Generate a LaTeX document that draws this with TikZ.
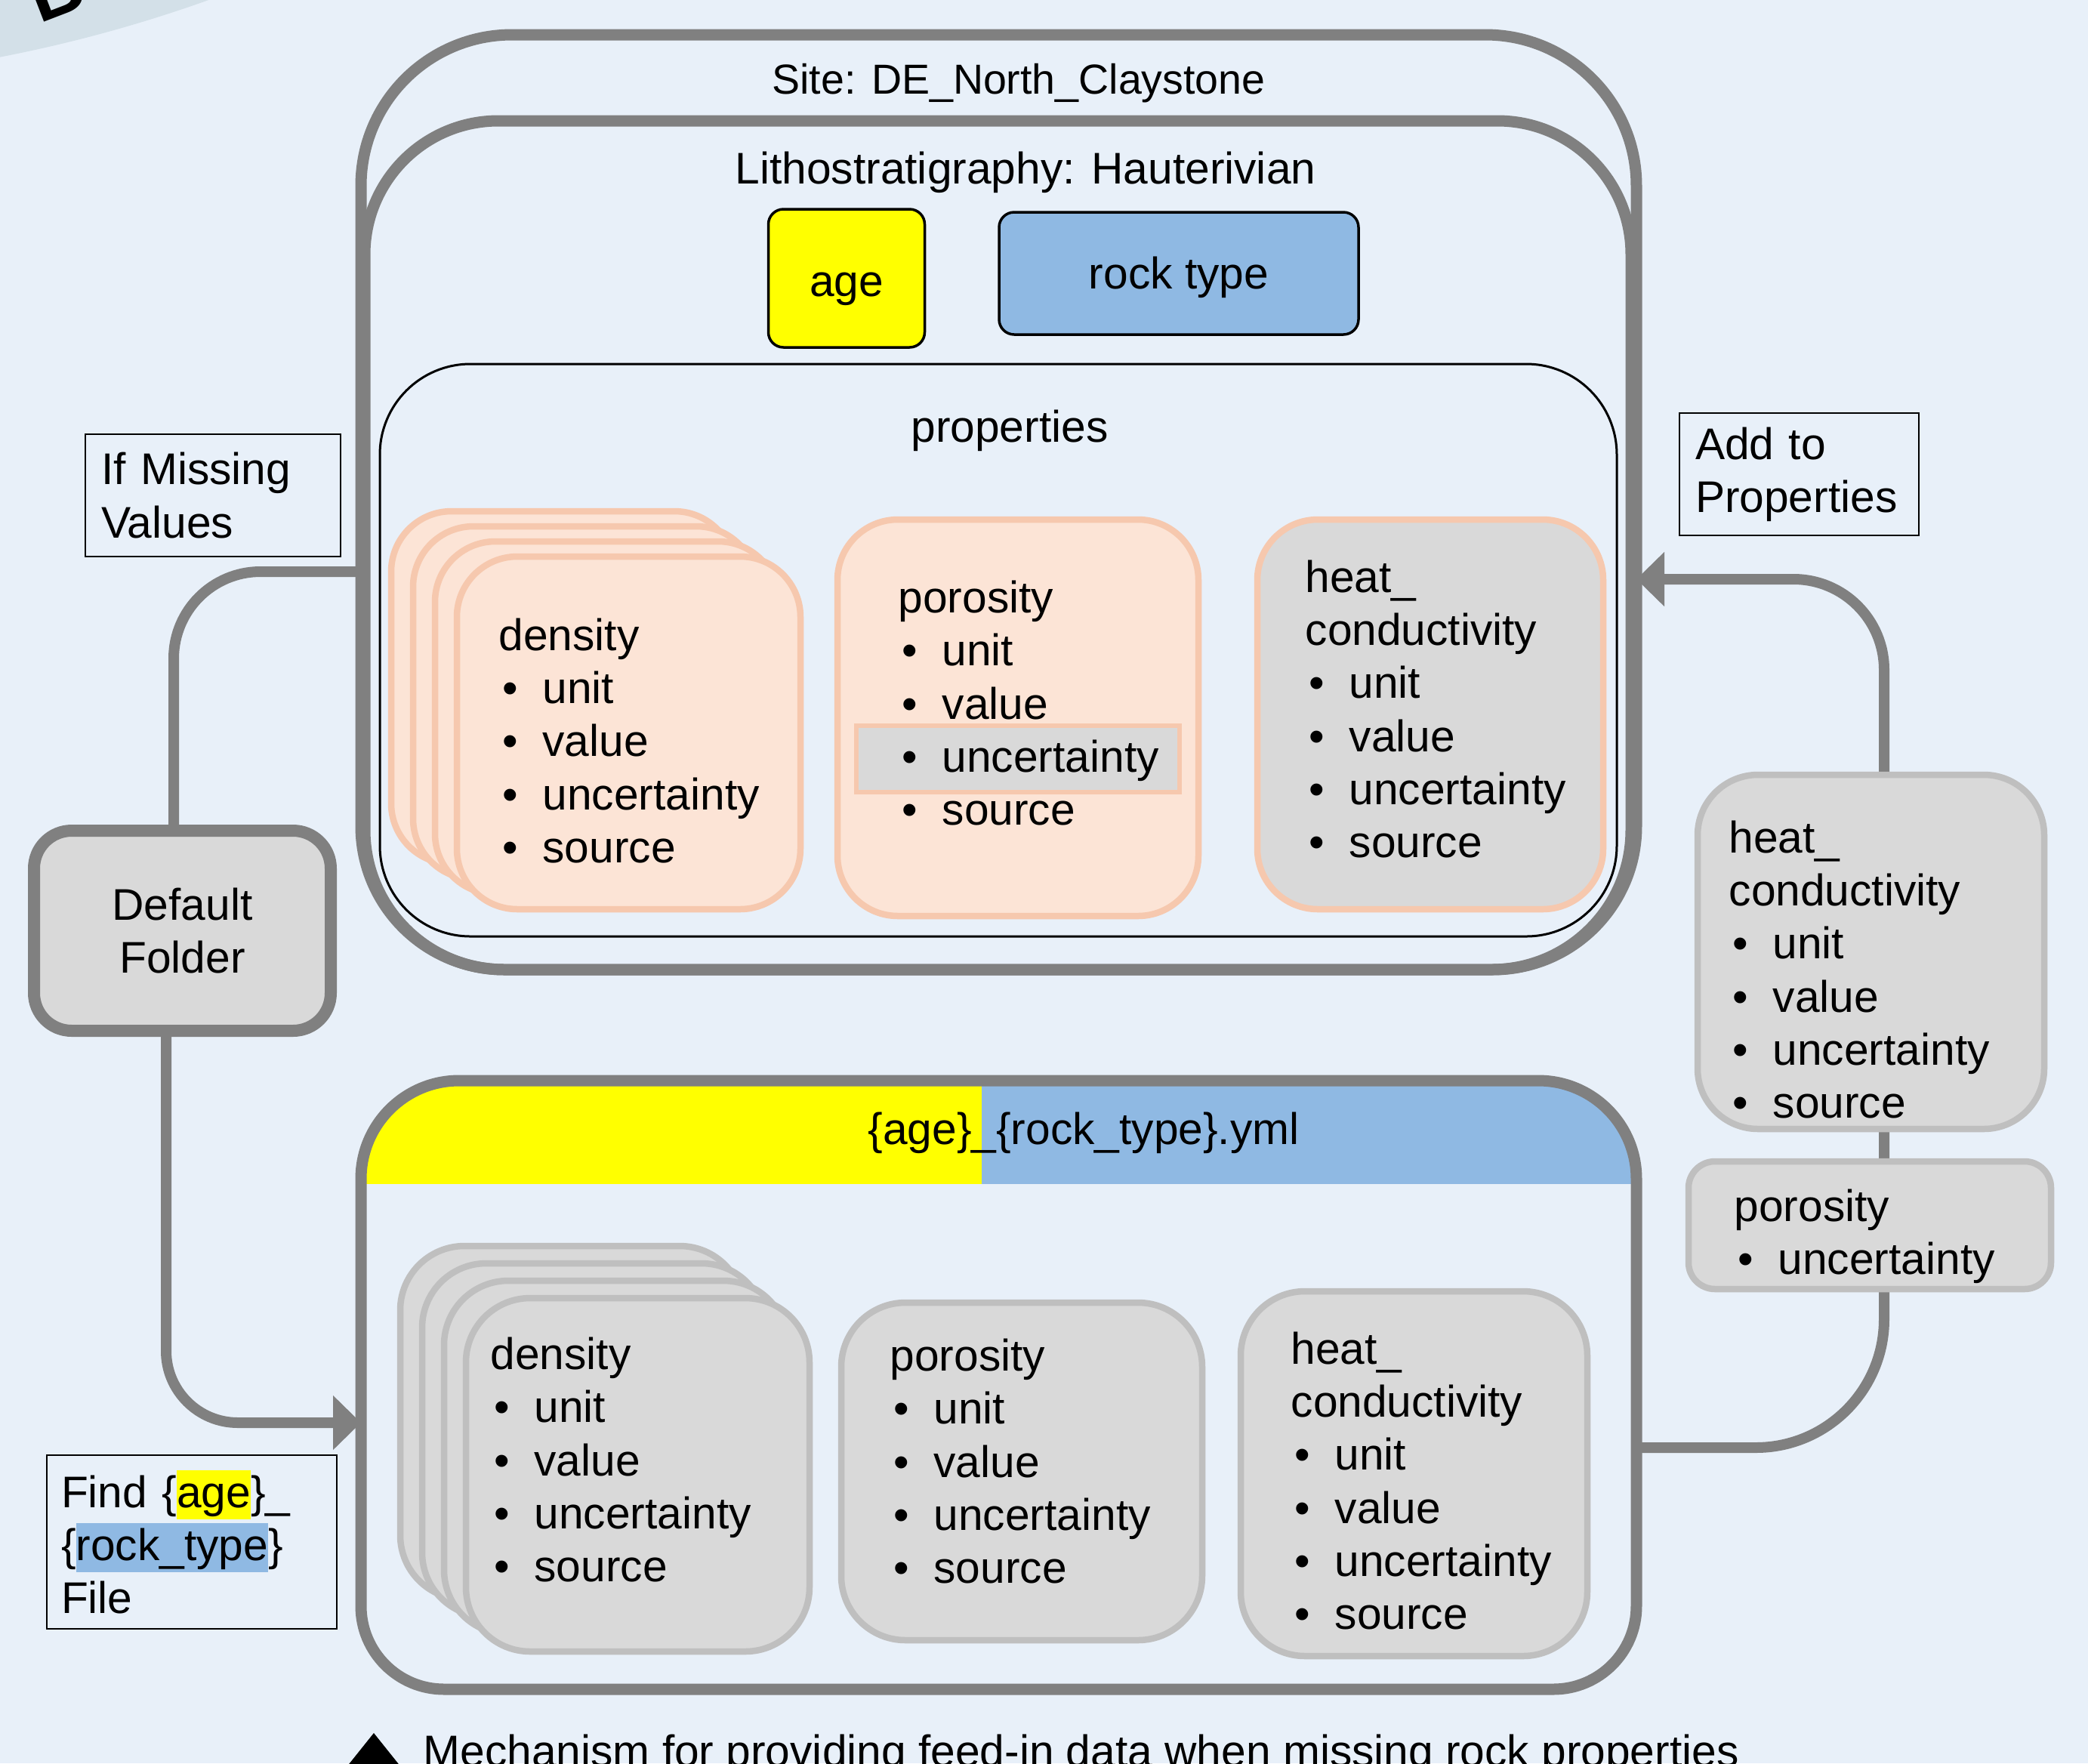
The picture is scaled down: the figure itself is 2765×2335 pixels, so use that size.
\documentclass[tikz,border=0pt]{standalone}
\usepackage{fontspec}
\setmainfont{Liberation Sans}
\usetikzlibrary{arrows.meta,positioning,calc}

\definecolor{bgcol}{HTML}{E8F0F9}
\definecolor{badge}{HTML}{D3E0E8}
\definecolor{gline}{HTML}{808080}
\definecolor{peachfill}{HTML}{FCE4D6}
\definecolor{peachline}{HTML}{F6C8AE}
\definecolor{greyfill}{HTML}{D9D9D9}
\definecolor{greyline}{HTML}{BFBFBF}
\definecolor{agefill}{HTML}{FFFF00}
\definecolor{rockfill}{HTML}{8FB9E3}

\newcommand{\bodyfont}{\fontsize{16.7}{20}\selectfont}
\newcommand{\itm}[1]{\makebox[5.8mm][l]{\hspace{0.5mm}\textbullet}#1}
\newcommand{\hlbox}[2]{{\setlength{\fboxsep}{0pt}\colorbox{#1}{\rule[-0.26em]{0pt}{1.11em}#2}}}
% outline of a frame node: #1 node, #2 top radius, #3 bottom radius
\newcommand{\framepath}[3]{(#1.west) -- ($(#1.north west)+(0,#2)$) arc[start angle=180,end angle=270,radius=#2]
  -- ($(#1.north east)+(-#2,0)$) arc[start angle=270,end angle=360,radius=#2]
  -- ($(#1.south east)+(0,-#3)$) arc[start angle=0,end angle=90,radius=#3]
  -- ($(#1.south west)+(#3,0)$) arc[start angle=90,end angle=180,radius=#3] -- cycle}

\pgfdeclarelayer{bottom}
\pgfdeclarelayer{behind}
\pgfsetlayers{bottom,behind,main}

\begin{document}
\begin{tikzpicture}[x=0.1mm, y=-0.1mm, font=\bodyfont,
     frame/.style = {draw=none, inner sep=0, outer sep=0},
    gframe/.style = {draw=gline, line width=1.5mm},
 peachcard/.style = {draw=peachline, fill=peachfill, line width=0.85mm, rounded corners=8mm, inner sep=0, outer sep=0},
  greycard/.style = {draw=greyline, fill=greyfill, line width=0.85mm, rounded corners=8.5mm, inner sep=0, outer sep=0},
  heatcard/.style = {peachcard, fill=greyfill},
  cardtext/.style = {anchor=west, align=left, inner sep=0},
       tag/.style = {draw=black, line width=0.25mm, align=left, inner ysep=0, outer sep=0},
    keybox/.style = {draw=black, line width=0.35mm, rounded corners=2mm, inner sep=0, text depth=0pt},
     title/.style = {anchor=base, inner sep=0},
      conn/.style = {draw=gline, line width=1.4mm},
       arr/.style = {-{Triangle[length=3.7mm,width=7mm]}},
     strip/.style = {draw=peachline, fill=greyfill, line width=0.55mm, sharp corners},
]
\useasboundingbox (0,0) rectangle (2765,2335);
\begin{pgfonlayer}{bottom}
\fill[bgcol] (0,0) rectangle (2765,2335);
\fill[badge] (-361,-1782) circle[radius=1892];
\end{pgfonlayer}
\node[rotate=21, anchor=base west, inner sep=0, font=\fontsize{28}{28}\selectfont\bfseries] (tagB) at (52,32) {B};

%% frames
\node[frame, minimum width=168.9mm, minimum height=123.8mm] (site)  at (1322.5,665) {};
\node[frame, minimum width=167.7mm, minimum height=112.4mm] (litho) at (1321.5,722) {};
\node[frame, minimum width=168.9mm, minimum height=80.6mm]  (file)  at (1322.5,1834) {};
\draw[gframe] \framepath{site}{200}{190};
\draw[gframe] \framepath{litho}{177}{185};
\node[title, font=\fontsize{15.8}{19}\selectfont] (siteTtl) at (1349,124) {Site: DE\_North\_Claystone};
\node[title] (lithoTtl) at (1358,243) {Lithostratigraphy: Hauterivian};

\node[keybox, fill=agefill, text height=4.7mm, minimum width=20.7mm, minimum height=18.3mm] (age) at (1121,368.5) {age};
\node[keybox, fill=rockfill, text height=4mm, minimum width=47.6mm, minimum height=16.2mm] (rock) at (1561,362) {rock type};

\node[draw=black, line width=0.3mm, rounded corners=12mm, minimum width=163.8mm, minimum height=75.8mm, outer sep=0] (props) at (1322,861) {};
\node[title] (propsTtl) at (1337,585) {properties};

%% stored properties
\foreach \k in {3,2,1}
  \node[peachcard, minimum width=45.5mm, minimum height=46.7mm] (upDen\k) at ({832.5-29*\k},{970.5-20*\k}) {};
\node[peachcard, minimum width=45.5mm, minimum height=46.7mm] (upDen) at (832.5,970.5) {};
\node[cardtext] (upDenTxt) at (660,981) {density\\\itm{unit}\\\itm{value}\\\itm{uncertainty}\\\itm{source}};
\node[peachcard, minimum width=47.8mm, minimum height=52.5mm,
      path picture={\draw[strip] ($(path picture bounding box.north west)+(25,273)$) rectangle ++(428,88);}] (upPor) at (1348,950.5) {};
\node[cardtext] (upPorTxt) at (1189,931) {porosity\\\itm{unit}\\\itm{value}\\\itm{uncertainty}\\\itm{source}};
\node[heatcard, minimum width=45.8mm, minimum height=51.6mm] (upHeat) at (1894,946) {};
\node[cardtext] (upHeatTxt) at (1728,939) {heat\_\\conductivity\\\itm{unit}\\\itm{value}\\\itm{uncertainty}\\\itm{source}};

%% default file
\begin{scope}
\clip \framepath{file}{130}{110};
\fill[agefill] (file.north west) rectangle (1300,1568);
\fill[rockfill] (1300,1431) rectangle (2167,1568);
\end{scope}
\draw[gframe] \framepath{file}{130}{110};
\node[title] (fileHdr) at (1435,1515) {\{age\}\_\{rock\_type\}.yml};

\foreach \k in {3,2,1}
  \node[greycard, minimum width=45.5mm, minimum height=46.8mm] (loDen\k) at ({844.5-29*\k},{1953-23*\k}) {};
\node[greycard, minimum width=45.5mm, minimum height=46.8mm] (loDen) at (844.5,1953) {};
\node[cardtext] (loDenTxt) at (649,1933) {density\\\itm{unit}\\\itm{value}\\\itm{uncertainty}\\\itm{source}};
\node[greycard, minimum width=47.8mm, minimum height=44.7mm] (loPor) at (1353,1948.5) {};
\node[cardtext] (loPorTxt) at (1178,1935) {porosity\\\itm{unit}\\\itm{value}\\\itm{uncertainty}\\\itm{source}};
\node[greycard, minimum width=45.9mm, minimum height=48.3mm] (loHeat) at (1872.5,1951.5) {};
\node[cardtext] (loHeatTxt) at (1709,1961) {heat\_\\conductivity\\\itm{unit}\\\itm{value}\\\itm{uncertainty}\\\itm{source}};

%% left side
\node[draw=gline, line width=1.6mm, fill=greyfill, rounded corners=5mm, align=center,
      minimum width=39.3mm, minimum height=26.5mm, outer sep=0] (defFold) at (241.5,1232.5) {Default\\Folder};
\node[tag, text width=29.6mm, inner xsep=2.1mm, minimum height=16.2mm] (missLbl) at (282,656) {If Missing\\Values};
\node[tag, text width=34.6mm, inner xsep=1.9mm, minimum height=23mm] (findLbl) at (254,2042)
  {Find \{\hlbox{agefill}{age}\}\_\\\{\hlbox{rockfill}{rock\_type}\}\\File};

%% right side
\node[tag, text width=27.5mm, inner xsep=2.1mm, minimum height=16.2mm] (addLbl) at (2382.5,628) {Add to\\Properties};
\node[greycard, rounded corners=8mm, minimum width=45.9mm, minimum height=46.9mm] (rHeat) at (2477.5,1260.5) {};
\node[cardtext] (rHeatTxt) at (2289,1284) {heat\_\\conductivity\\\itm{unit}\\\itm{value}\\\itm{uncertainty}\\\itm{source}};
\node[greycard, rounded corners=3.5mm, minimum width=48mm, minimum height=16.9mm] (rPor) at (2476,1622.5) {};
\node[cardtext] (rPorTxt) at (2296,1637) {porosity\\\itm{uncertainty}};

%% paths
\coordinate (ret) at (2495,767);
\begin{pgfonlayer}{behind}
\draw[conn, rounded corners=11.5mm] ([yshift=-3.5mm]litho.west) -| ([xshift=-1.15mm]defFold.north);
\draw[conn, arr, rounded corners=9.5mm] ([xshift=-2.15mm]defFold.south) |- ([yshift=-5mm]file.west);
\draw[conn, rounded corners=17mm] ([yshift=-8.3mm]file.east) -| (rHeat.center -| ret);
\draw[conn, arr, rounded corners=12mm] (rHeat.center -| ret) |- (site.east |- ret);
\end{pgfonlayer}

%% caption
\fill[black] (495,2295) -- (547,2360) -- (443,2360) -- cycle;
\node[anchor=base west, inner sep=0] (caption) at (560,2339) {Mechanism for providing feed-in data when missing rock properties};
\end{tikzpicture}
\end{document}
